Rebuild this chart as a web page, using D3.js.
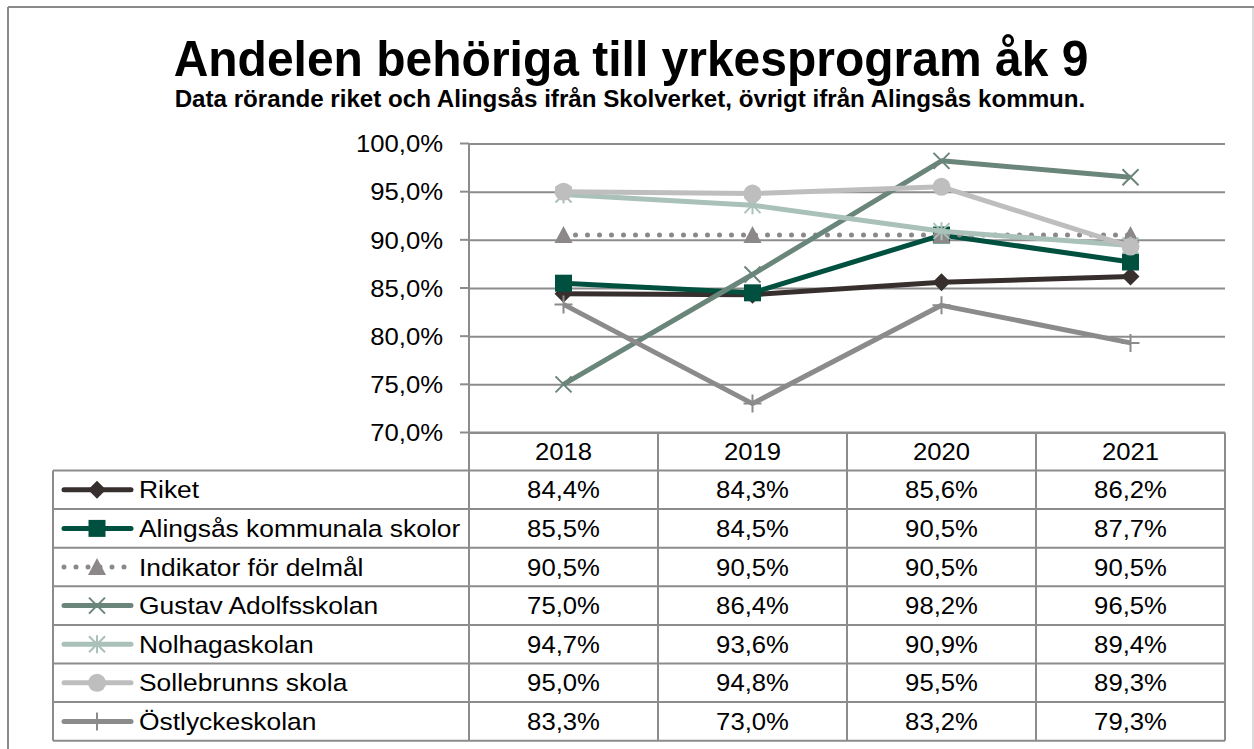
<!DOCTYPE html>
<html>
<head>
<meta charset="utf-8">
<script src="https://cdn.jsdelivr.net/npm/d3@7"></script>
<style>
  body { margin: 0; background: #fff; }
  svg { display: block; font-family: "Liberation Sans", Arial, sans-serif; }
</style>
</head>
<body>
<div id="chart"></div>
<script>
// data
var years = ["2018", "2019", "2020", "2021"];
var seriesNames = ["Riket", "Alingsås kommunala skolor", "Indikator för delmål",
  "Gustav Adolfsskolan", "Nolhagaskolan", "Sollebrunns skola", "Östlyckeskolan"];
var riket = [84.4, 84.3, 85.6, 86.2];
var alingsas = [85.5, 84.5, 90.5, 87.7];
var indikator = [90.5, 90.5, 90.5, 90.5];
var gustav = [75.0, 86.4, 98.2, 96.5];
var nolhaga = [94.7, 93.6, 90.9, 89.4];
var sollebrunn = [95.0, 94.8, 95.5, 89.3];
var ostlycke = [83.3, 73.0, 83.2, 79.3];
var yTicks = [70, 75, 80, 85, 90, 95, 100];

var title = "Andelen behöriga till yrkesprogram åk 9";
var subtitle = "Data rörande riket och Alingsås ifrån Skolverket, övrigt ifrån Alingsås kommun.";

var colors = ["#372f2d", "#00503f", "#8c8889", "#6a857a", "#a9c1b9", "#bfbebf", "#8b8b8b"];
var markers = ["diamond", "square", "triangle", "x", "star", "circle", "plus"];
var allValues = [riket, alingsas, indikator, gustav, nolhaga, sollebrunn, ostlycke];

var W = 1254, H = 749;
var plot = { left: 469, right: 1225, top: 143.5, bottom: 432.5 };
var tableLeft = 53, rowH = 38.6, headerH = 38;
var fs = 24, sx = 1.07; // table / axis text

var sv = d3.formatLocale({ decimal: ",", thousands: " ", grouping: [3], currency: ["", " kr"] });
var pct = function (v) { return sv.format(".1f")(v) + "%"; };

var svg = d3.select("#chart").append("svg")
  .attr("width", W).attr("height", H);

// text with a small horizontal stretch, the picture is a bit wider than the font
function label(g, str, xx, yy, size, anchor, stretch, bold) {
  return g.append("text")
    .attr("transform", "translate(" + xx + "," + yy + ") scale(" + stretch + ",1)")
    .attr("text-anchor", anchor).attr("font-size", size)
    .attr("font-weight", bold ? "bold" : null)
    .attr("fill", "#000").text(str);
}

// outer frame
svg.append("line").attr("x1", 8).attr("x2", W).attr("y1", 7).attr("y2", 7)
  .attr("stroke", "#8a8a8a").attr("stroke-width", 2);
svg.append("line").attr("x1", 8).attr("x2", 8).attr("y1", 7).attr("y2", H)
  .attr("stroke", "#8a8a8a").attr("stroke-width", 2);
svg.append("line").attr("x1", 1253).attr("x2", 1253).attr("y1", 8).attr("y2", H)
  .attr("stroke", "#cfcfcf").attr("stroke-width", 1.5);

// titles
label(svg, title, 631, 76, 50, "middle", 0.96, true);
label(svg, subtitle, 630, 107, 23, "middle", 1.05, true);

var x = d3.scaleBand().domain(years).range([plot.left, plot.right]).paddingInner(0).paddingOuter(0);
var y = d3.scaleLinear().domain([70, 100]).range([plot.bottom, plot.top]);
var cx = function (i) { return x(years[i]) + x.bandwidth() / 2; };

// grid
var yAxis = d3.axisLeft(y).tickValues(yTicks).tickSize(plot.right - plot.left).tickFormat("");
var gy = svg.append("g").attr("transform", "translate(" + plot.right + ",0)").call(yAxis);
gy.select(".domain").remove();
gy.selectAll(".tick line").attr("stroke", "#8c8c8c").attr("stroke-width", 2);
// short outside ticks + labels
svg.selectAll("line.ytick").data(yTicks).join("line").attr("class", "ytick")
  .attr("x1", plot.left - 9).attr("x2", plot.left).attr("y1", d => y(d)).attr("y2", d => y(d))
  .attr("stroke", "#8c8c8c").attr("stroke-width", 2);
yTicks.forEach(function (t) {
  label(svg, pct(t), 443, y(t) + 8.7, fs, "end", sx, false);
});
svg.append("line").attr("x1", plot.left).attr("x2", plot.left).attr("y1", plot.top).attr("y2", plot.bottom)
  .attr("stroke", "#8c8c8c").attr("stroke-width", 2);

// marker drawing
function drawMarker(g, type, color) {
  if (type === "diamond") {
    g.append("path").attr("d", "M0,-9L9,0L0,9L-9,0Z").attr("fill", color);
  } else if (type === "square") {
    g.append("rect").attr("x", -8.5).attr("y", -8.5).attr("width", 17).attr("height", 17).attr("fill", color);
  } else if (type === "triangle") {
    g.append("path").attr("d", "M0,-9L9,8L-9,8Z").attr("fill", color);
  } else if (type === "circle") {
    g.append("circle").attr("r", 9).attr("fill", color);
  } else if (type === "x") {
    g.append("path").attr("d", "M-8,-8L8,8M-8,8L8,-8").attr("stroke", color).attr("stroke-width", 2).attr("fill", "none");
  } else if (type === "star") {
    g.append("path").attr("d", "M-8,-8L8,8M-8,8L8,-8M0,-9L0,9").attr("stroke", color).attr("stroke-width", 2).attr("fill", "none");
  } else if (type === "plus") {
    g.append("path").attr("d", "M0,-9L0,9M-9,0L9,0").attr("stroke", color).attr("stroke-width", 2).attr("fill", "none");
  }
}

var line = d3.line().x((d, i) => cx(i)).y(d => y(d));

allValues.forEach(function (vals, s) {
  var g = svg.append("g");
  g.append("path").datum(vals).attr("d", line).attr("fill", "none")
    .attr("stroke", colors[s]).attr("stroke-width", 5)
    .attr("stroke-linejoin", "round")
    .attr("stroke-linecap", s === 2 ? "round" : "butt")
    .attr("stroke-dasharray", s === 2 ? "0 12" : null);
  vals.forEach(function (v, i) {
    var m = g.append("g").attr("transform", "translate(" + cx(i) + "," + y(v) + ")");
    drawMarker(m, markers[s], colors[s]);
  });
});

// data table
var tableTop = plot.bottom;
var tableBottom = tableTop + headerH + rowH * seriesNames.length;
var bc = "#8c8c8c";
var tb = svg.append("g");
tb.append("line").attr("x1", plot.left).attr("x2", plot.right).attr("y1", tableTop).attr("y2", tableTop)
  .attr("stroke", bc).attr("stroke-width", 2);
years.forEach(function (yr) {
  var xr = x(yr) + x.bandwidth();
  tb.append("line").attr("x1", xr).attr("x2", xr).attr("y1", tableTop).attr("y2", tableBottom)
    .attr("stroke", bc).attr("stroke-width", 2);
});
tb.append("line").attr("x1", plot.left).attr("x2", plot.left).attr("y1", tableTop).attr("y2", tableBottom)
  .attr("stroke", bc).attr("stroke-width", 2);
tb.append("line").attr("x1", tableLeft).attr("x2", tableLeft).attr("y1", tableTop + headerH).attr("y2", tableBottom)
  .attr("stroke", bc).attr("stroke-width", 2);
d3.range(seriesNames.length + 1).forEach(function (r) {
  var yy = tableTop + headerH + r * rowH;
  tb.append("line").attr("x1", tableLeft).attr("x2", plot.right).attr("y1", yy).attr("y2", yy)
    .attr("stroke", bc).attr("stroke-width", 2);
});
years.forEach(function (yr, i) {
  label(tb, yr, cx(i), tableTop + headerH / 2 + 8.6, fs, "middle", sx, false);
});
seriesNames.forEach(function (name, s) {
  var mid = tableTop + headerH + s * rowH + rowH / 2;
  var lg = tb.append("g");
  lg.append("line").attr("x1", 64).attr("x2", 131).attr("y1", mid).attr("y2", mid)
    .attr("stroke", colors[s]).attr("stroke-width", 5)
    .attr("stroke-linecap", "round")
    .attr("stroke-dasharray", s === 2 ? "0 12" : null);
  var m = lg.append("g").attr("transform", "translate(97," + mid + ")");
  drawMarker(m, markers[s], colors[s]);
  label(lg, name, 139, mid + 8.6, fs, "start", 1.1, false);
  allValues[s].forEach(function (v, i) {
    label(tb, pct(v), cx(i), mid + 8.6, fs, "middle", sx, false);
  });
});
</script>
</body>
</html>
